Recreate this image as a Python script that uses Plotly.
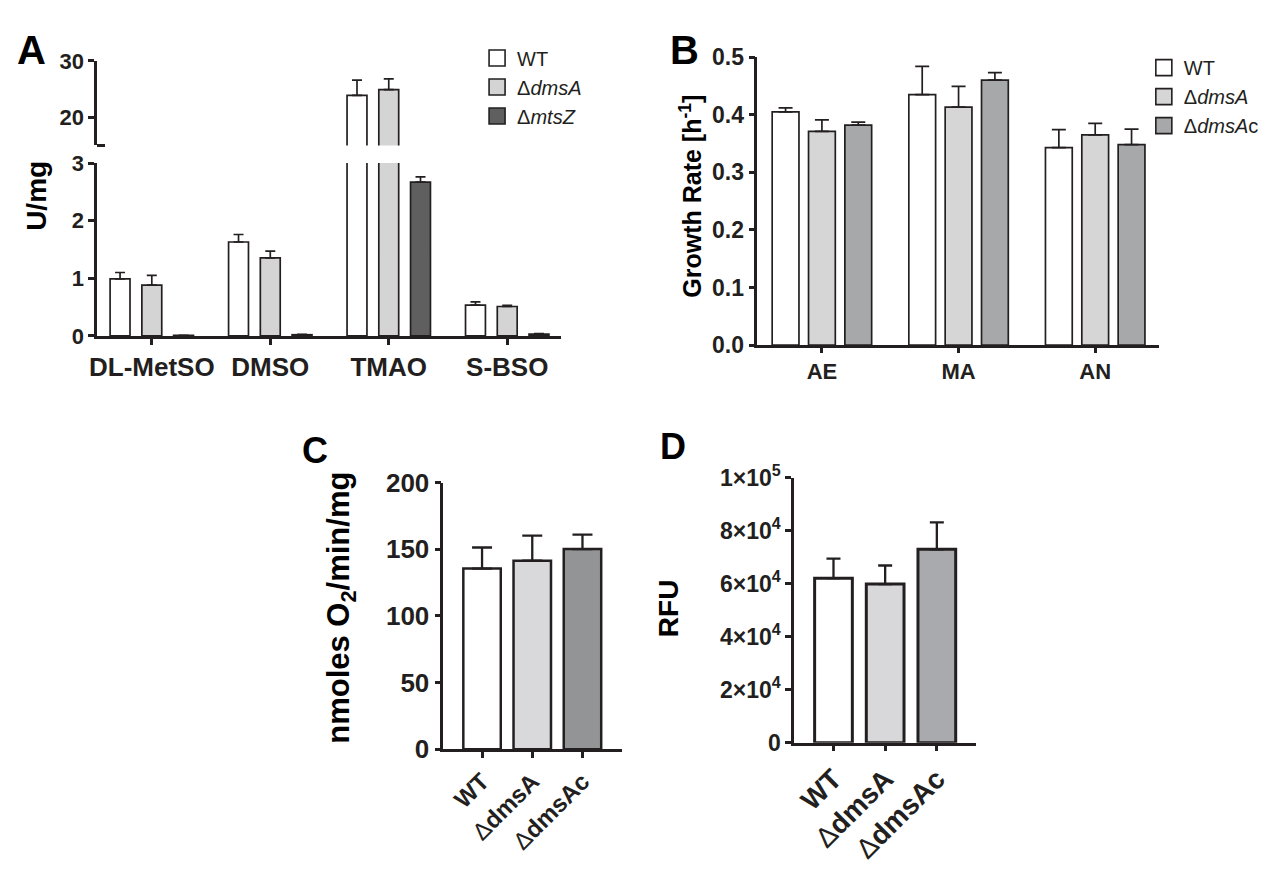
import plotly.graph_objects as go

W, H = 1267, 874
FONT = "Liberation Sans, Arial, sans-serif"
INK = "#231f20"

# ---- data ----
# panel A: reductase activity (U/mg)
a_subs = ["DL-MetSO", "DMSO", "TMAO", "S-BSO"]
a_wt = [0.99, 1.63, 23.9, 0.535]
a_wt_sd = [0.11, 0.13, 2.7, 0.055]
a_dmsa = [0.88, 1.355, 24.9, 0.51]
a_dmsa_sd = [0.17, 0.115, 1.9, 0.02]
a_mtsz = [0.01, 0.02, 2.67, 0.03]
a_mtsz_sd = [0.0, 0.005, 0.09, 0.01]

# panel B: growth rate (h-1)
b_conds = ["AE", "MA", "AN"]
b_wt = [0.405, 0.435, 0.343]
b_wt_sd = [0.007, 0.049, 0.031]
b_dmsa = [0.371, 0.413, 0.365]
b_dmsa_sd = [0.020, 0.036, 0.020]
b_dmsac = [0.382, 0.460, 0.348]
b_dmsac_sd = [0.005, 0.013, 0.027]

# panel C: oxygen consumption
cd_strains = ["WT", "dmsA", "dmsAc"]
cd_labels = ["<b>WT</b>",
             "<span style='font-weight:normal'>\u0394</span><b>dmsA</b>",
             "<span style='font-weight:normal'>\u0394</span><b>dmsAc</b>"]
c_rate = [135.5, 141.4, 150.1]
c_rate_sd = [15.8, 18.8, 10.9]

# panel D: fluorescence
d_rfu = [62100, 59900, 73000]
d_rfu_sd = [7400, 7000, 10200]
d_tickvals = [0, 20000, 40000, 60000, 80000, 100000]
d_ticktext = ["0", "2\u00d710<sup>4</sup>", "4\u00d710<sup>4</sup>",
              "6\u00d710<sup>4</sup>", "8\u00d710<sup>4</sup>", "1\u00d710<sup>5</sup>"]


def fx(p):
    return p / W


def fy(p):
    return 1 - p / H


def err(sd, width, thick):
    return dict(type="data", array=sd, arrayminus=[0] * len(sd), symmetric=False,
                color=INK, thickness=thick, width=width)


def legend_key(name, col, legend, xa, ya):
    # legend-only entry so the key square is larger than the bar default
    return go.Scatter(x=[None], y=[None], mode="markers", name=name, legend=legend,
                      xaxis=xa, yaxis=ya, hoverinfo="skip",
                      marker=dict(symbol="square", size=16, color=col,
                                  line=dict(color=INK, width=1.6)))


fig = go.Figure()

# panel A, drawn twice (lower and upper segment of the broken axis)
a_series = [("WT", a_wt, a_wt_sd, "white"),
            ("\u0394<i>dmsA</i>", a_dmsa, a_dmsa_sd, "#d4d4d4"),
            ("\u0394<i>mtsZ</i>", a_mtsz, a_mtsz_sd, "#5f5f60")]
a_offsets = [-0.352, -0.084, 0.184]
for (name, vals, sd, col), off in zip(a_series, a_offsets):
    for xa_, ya_ in [("x", "y"), ("x2", "y2")]:
        fig.add_trace(go.Bar(
            x=a_subs, y=vals, name=name, xaxis=xa_, yaxis=ya_,
            width=0.168, offset=off, showlegend=False,
            marker=dict(color=col, line=dict(color=INK, width=1.7)),
            error_y=err(sd, 5, 1.7)
        ))
    fig.add_trace(legend_key(name, col, "legend", "x", "y"))

# panel B
b_series = [("WT", b_wt, b_wt_sd, "white"),
            ("\u0394<i>dmsA</i>", b_dmsa, b_dmsa_sd, "#d6d6d6"),
            ("\u0394<i>dmsA</i>c", b_dmsac, b_dmsac_sd, "#a7a8aa")]
b_offsets = [-0.364, -0.098, 0.168]
for (name, vals, sd, col), off in zip(b_series, b_offsets):
    fig.add_trace(go.Bar(
        x=b_conds, y=vals, name=name, xaxis="x3", yaxis="y3",
        width=0.196, offset=off, showlegend=False,
        marker=dict(color=col, line=dict(color=INK, width=1.7)),
        error_y=err(sd, 7, 1.7)
    ))
    fig.add_trace(legend_key(name, col, "legend2", "x3", "y3"))

# panel C
fig.add_trace(go.Bar(
    x=cd_strains, y=c_rate, xaxis="x4", yaxis="y4", width=0.746, showlegend=False,
    marker=dict(color=["white", "#d9d9db", "#939496"], line=dict(color=INK, width=2.5)),
    error_y=err(c_rate_sd, 10, 2.3)
))

# panel D
fig.add_trace(go.Bar(
    x=cd_strains, y=d_rfu, xaxis="x5", yaxis="y5", width=0.73, showlegend=False,
    marker=dict(color=["white", "#d8d8da", "#a9aaae"], line=dict(color=INK, width=3)),
    error_y=err(d_rfu_sd, 7, 2.3)
))

axis_base = dict(showline=True, linecolor=INK, linewidth=2.5, ticks="outside",
                 tickcolor=INK, tickwidth=2.5, ticklen=6, showgrid=False,
                 zeroline=False, fixedrange=True)


def axis(domain, rng, anchor, size, **kw):
    d = dict(axis_base, domain=domain, range=rng, anchor=anchor,
             tickfont=dict(family=FONT, size=size, color=INK, weight="bold"))
    d.update(kw)
    return d


fig.update_layout(
    width=W, height=H, margin=dict(l=0, r=0, t=0, b=0),
    paper_bgcolor="white", plot_bgcolor="white",
    barmode="overlay", showlegend=True,
    xaxis=axis([fx(81.7), fx(548)], [-0.461, 3.45], "y", 26, type="category"),
    yaxis=axis([fy(322.7), fy(143.3)], [0, 3], "x", 22, tickvals=[0, 1, 2, 3]),
    xaxis2=axis([fx(81.7), fx(548)], [-0.461, 3.45], "y2", 26, type="category",
                matches="x", visible=False),
    yaxis2=axis([fy(125), fy(37.3)], [15, 30], "x2", 22, tickvals=[20, 30],
                minor=dict(tickvals=[15], ticks="inside", ticklen=8, tickwidth=2.5,
                           tickcolor=INK)),
    xaxis3=axis([fx(746), fx(1150)], [-0.473, 2.465], "y3", 22, type="category",
                ticklen=5),
    yaxis3=axis([fy(332.3), fy(33.3)], [0, 0.5], "x3", 23,
                tickvals=[0, 0.1, 0.2, 0.3, 0.4, 0.5], tickformat=".1f"),
    xaxis4=axis([fx(430), fx(610)], [-0.772, 2.79], "y4", 24, type="category",
                tickangle=-45, tickmode="array", tickvals=cd_strains, ticktext=cd_labels),
    yaxis4=axis([fy(751.7), fy(475)], [0, 200], "x4", 26,
                tickvals=[0, 50, 100, 150, 200]),
    xaxis5=axis([fx(783), fx(966)], [-0.763, 2.756], "y5", 28, type="category",
                tickangle=-45, tickmode="array", tickvals=cd_strains, ticktext=cd_labels),
    yaxis5=axis([fy(745), fy(470)], [0, 100000], "x5", 23,
                tickvals=d_tickvals, ticktext=d_ticktext),
    legend=dict(x=fx(464), y=fy(14), xanchor="left", yanchor="top",
                font=dict(family=FONT, size=20, color=INK),
                bgcolor="rgba(0,0,0,0)", traceorder="normal"),
    legend2=dict(x=fx(1135), y=fy(24), xanchor="left", yanchor="top",
                 font=dict(family=FONT, size=20, color=INK),
                 bgcolor="rgba(0,0,0,0)", traceorder="normal"),
)

# panel letters and axis titles
texts = [
    ("A", 16, 26, 40, 0),
    ("B", 673, 26, 40, 0),
    ("C", 301, 442, 36, 0),
    ("D", 661, 438, 36, 0),
    ("U/mg", 20, 177.5, 28, -90),
    ("Growth Rate [h<sup>-1</sup>]", 679, 177.5, 25, -90),
    ("nmoles O<sub>2</sub>/min/mg", 327, 605, 31, -90),
    ("RFU", 657.5, 605, 28, -90),
]
for txt, px, py, size, ang in texts:
    fig.add_annotation(
        text=txt, x=fx(px), y=fy(py), xref="paper", yref="paper",
        xanchor="center", yanchor="middle", showarrow=False, textangle=ang,
        font=dict(family=FONT, size=size, color="black", weight="bold")
    )

fig.write_html("out.html")
